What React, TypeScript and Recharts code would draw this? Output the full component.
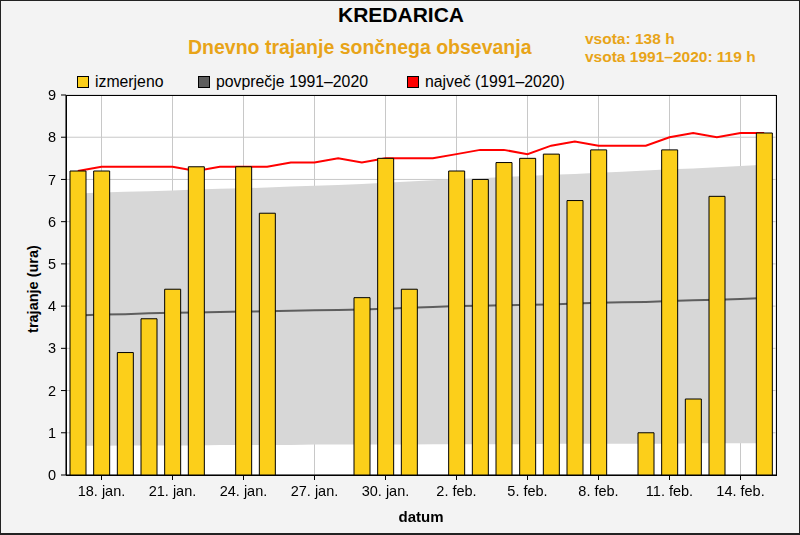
import {
  ComposedChart, Bar, Line, Area, XAxis, YAxis, CartesianGrid,
} from 'recharts';

const days = [
  '17. jan.', '18. jan.', '19. jan.', '20. jan.', '21. jan.', '22. jan.', '23. jan.', '24. jan.',
  '25. jan.', '26. jan.', '27. jan.', '28. jan.', '29. jan.', '30. jan.', '31. jan.',
  '1. feb.', '2. feb.', '3. feb.', '4. feb.', '5. feb.', '6. feb.', '7. feb.', '8. feb.',
  '9. feb.', '10. feb.', '11. feb.', '12. feb.', '13. feb.', '14. feb.', '15. feb.',
];

const measured = [
  7.2, 7.2, 2.9, 3.7, 4.4, 7.3, 0, 7.3, 6.2, 0, 0, 0, 4.2, 7.5, 4.4,
  0, 7.2, 7.0, 7.4, 7.5, 7.6, 6.5, 7.7, 0, 1.0, 7.7, 1.8, 6.6, 0, 8.1,
];

const maxValues = [
  7.2, 7.3, 7.3, 7.3, 7.3, 7.2, 7.3, 7.3, 7.3, 7.4, 7.4, 7.5, 7.4, 7.5, 7.5,
  7.5, 7.6, 7.7, 7.7, 7.6, 7.8, 7.9, 7.8, 7.8, 7.8, 8.0, 8.1, 8.0, 8.1, 8.1,
];

const average = [
  3.78, 3.8, 3.81, 3.83, 3.84, 3.85, 3.86, 3.87, 3.88, 3.89, 3.9, 3.91, 3.92, 3.94, 3.96,
  3.98, 4.0, 4.01, 4.02, 4.03, 4.04, 4.06, 4.08, 4.09, 4.1, 4.12, 4.14, 4.15, 4.17, 4.19,
];

const bandLow = [
  0.69, 0.69, 0.7, 0.7, 0.7, 0.7, 0.71, 0.71, 0.71, 0.71, 0.72, 0.72, 0.72, 0.72, 0.72,
  0.73, 0.73, 0.73, 0.73, 0.73, 0.74, 0.74, 0.74, 0.74, 0.74, 0.74, 0.75, 0.75, 0.75, 0.75,
];

const bandHigh = [
  6.67, 6.69, 6.71, 6.72, 6.74, 6.76, 6.78, 6.79, 6.81, 6.83, 6.85, 6.87, 6.89, 6.92, 6.95,
  6.98, 7.01, 7.03, 7.06, 7.08, 7.11, 7.13, 7.16, 7.18, 7.21, 7.24, 7.26, 7.29, 7.32, 7.35,
];

const xTicks = ['18. jan.', '21. jan.', '24. jan.', '27. jan.', '30. jan.', '2. feb.', '5. feb.', '8. feb.', '11. feb.', '14. feb.'];
const yTicks = [0, 1, 2, 3, 4, 5, 6, 7, 8, 9];

const legendItems = [
  { label: 'izmerjeno', color: '#fccf1a', left: 77 },
  { label: 'povprečje 1991–2020', color: '#5e5e5e', left: 198 },
  { label: 'največ (1991–2020)', color: '#ff0000', left: 407 },
];

const font = '"Liberation Sans", Arial, sans-serif';
const orange = '#e8a418';
const margin = { top: 95, right: 24, bottom: 32, left: 36 };
const tickStyle = { fontSize: 14.5, fill: '#000', fontFamily: font };

export default function App() {
  const data = days.map((d, i) => ({
    day: d,
    measured: measured[i] > 0 ? measured[i] : null,
    max: maxValues[i],
    avg: average[i],
    band: [bandLow[i], bandHigh[i]],
  }));

  // bars go in their own chart on top, so the lines pass behind them
  return (
    <div style={{
      position: 'fixed', top: 0, left: 0, width: 800, height: 535, boxSizing: 'border-box',
      background: '#f3f3f3', border: '1px solid #222', borderBottomWidth: 2, fontFamily: font,
    }}>
      <div style={{ position: 'absolute', top: 2, left: 0, width: 800, textAlign: 'center', fontSize: 21, fontWeight: 'bold', color: '#000' }}>
        KREDARICA
      </div>
      <div style={{ position: 'absolute', top: 35, left: 187, fontSize: 19.5, fontWeight: 'bold', color: orange, whiteSpace: 'nowrap' }}>
        Dnevno trajanje sončnega obsevanja
      </div>
      <div style={{ position: 'absolute', top: 29, left: 584, fontSize: 15.5, fontWeight: 'bold', color: orange, lineHeight: '18px', whiteSpace: 'nowrap' }}>
        <div>vsota: 138 h</div>
        <div>vsota 1991–2020: 119 h</div>
      </div>
      {legendItems.map((it) => (
        <div key={it.label} style={{ position: 'absolute', top: 72, left: it.left - 1, display: 'flex', alignItems: 'center', fontSize: 15.8, color: '#000', whiteSpace: 'nowrap' }}>
          <span style={{ display: 'inline-block', width: 10, height: 10, background: it.color, border: '1px solid #000', marginRight: 6 }} />
          {it.label}
        </div>
      ))}
      <div style={{
        position: 'absolute', left: 32, top: 288, transform: 'translate(-50%, -50%) rotate(-90deg)',
        fontSize: 14.5, fontWeight: 'bold', whiteSpace: 'nowrap',
      }}>
        trajanje (ura)
      </div>
      <div style={{ position: 'absolute', top: 507, left: 0, width: 840, textAlign: 'center', fontSize: 15, fontWeight: 'bold' }}>
        datum
      </div>
      <div style={{ position: 'absolute', top: -1, left: -1 }}>
        <ComposedChart width={800} height={535} data={data} margin={margin} barSize={16}>
          <CartesianGrid stroke="#c8c8c8" fill="#ffffff" />
          <XAxis
            dataKey="day"
            scale="band"
            ticks={xTicks}
            interval={0}
            height={28}
            tick={tickStyle}
            tickSize={5}
            tickMargin={6}
            stroke="#000"
          />
          <YAxis
            domain={[0, 9]}
            ticks={yTicks}
            width={30}
            tick={tickStyle}
            tickSize={5}
            tickMargin={5}
            stroke="#000"
            allowDataOverflow
          />
          <Area
            dataKey="band"
            type="linear"
            fill="#d7d7d7"
            fillOpacity={1}
            stroke="none"
            isAnimationActive={false}
            dot={false}
            activeDot={false}
          />
          <Line
            dataKey="avg"
            type="linear"
            stroke="#5e5e5e"
            strokeWidth={2}
            dot={false}
            activeDot={false}
            isAnimationActive={false}
          />
          <Line
            dataKey="max"
            type="linear"
            stroke="#ff0000"
            strokeWidth={2}
            dot={false}
            activeDot={false}
            isAnimationActive={false}
          />
        </ComposedChart>
      </div>
      <div style={{ position: 'absolute', top: -1, left: -1 }}>
        <ComposedChart width={800} height={535} data={data} margin={margin} barSize={16}>
          <XAxis dataKey="day" scale="band" height={28} tick={false} axisLine={false} tickLine={false} />
          <YAxis domain={[0, 9]} width={30} tick={false} axisLine={false} tickLine={false} allowDataOverflow />
          <Bar
            dataKey="measured"
            fill="#fccf1a"
            stroke="#000"
            strokeWidth={1}
            isAnimationActive={false}
          />
        </ComposedChart>
      </div>
      <div style={{
        position: 'absolute', left: 65, top: 94, width: 711, height: 381,
        border: '1px solid #000', boxSizing: 'border-box', pointerEvents: 'none',
      }} />
    </div>
  );
}
